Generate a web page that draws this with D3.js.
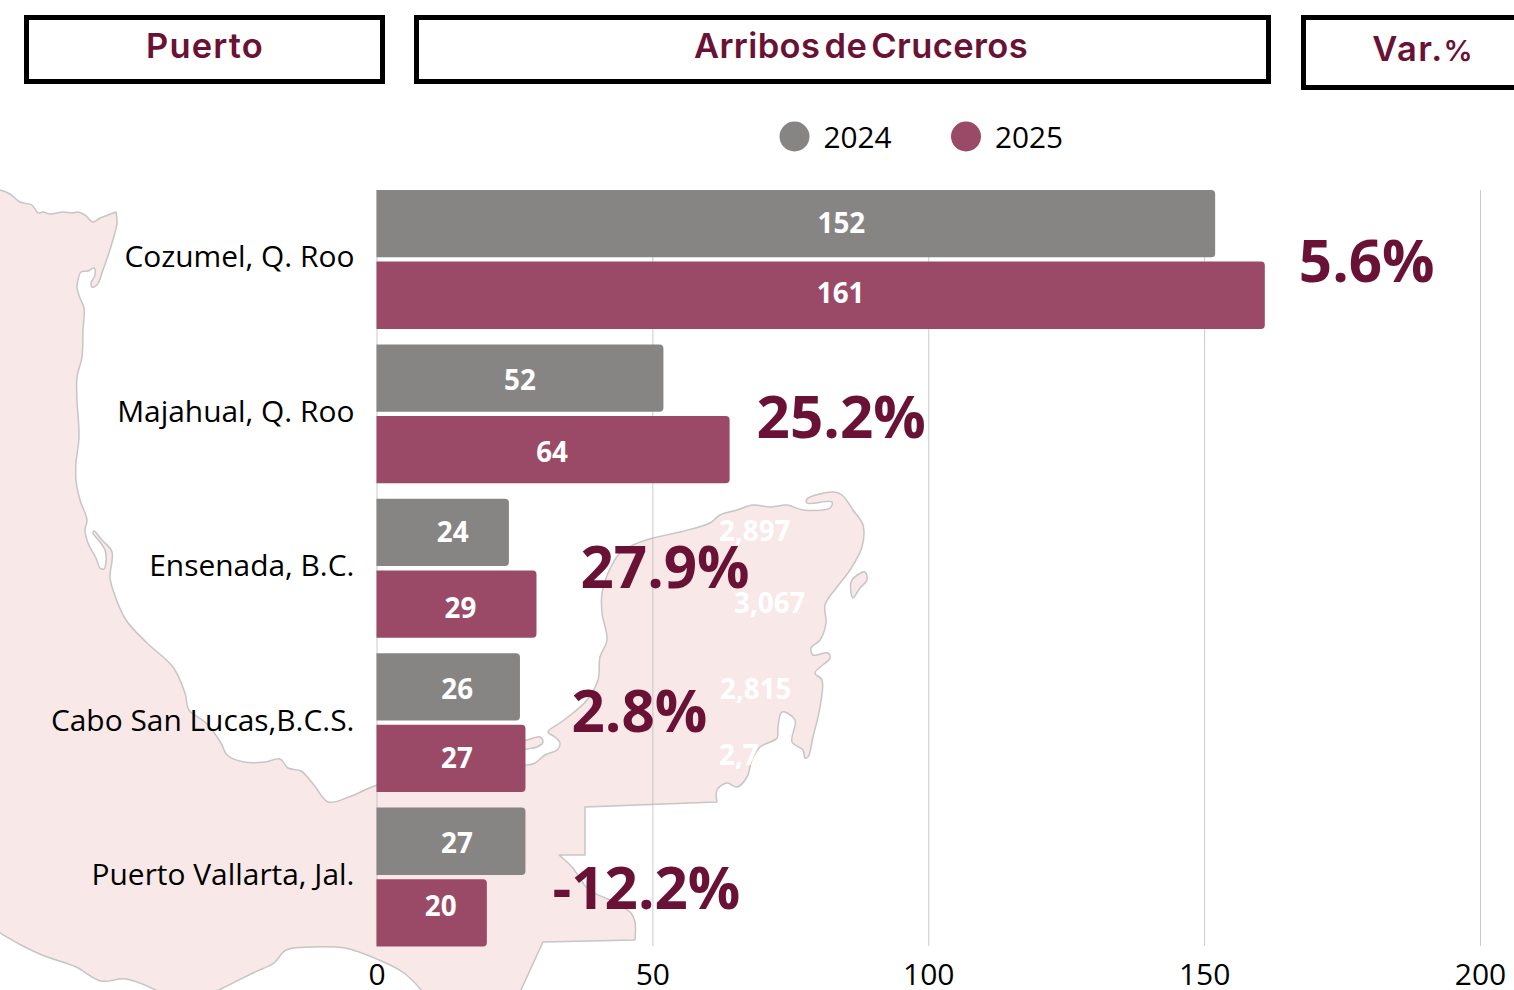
<!DOCTYPE html>
<html><head><meta charset="utf-8">
<script src="https://cdn.jsdelivr.net/npm/d3@7/dist/d3.min.js"></script>
<style>
html,body{margin:0;padding:0;background:#fff;overflow:hidden}
svg{display:block}
</style></head><body>
<svg id="c" width="1514" height="990"></svg>
<script>
// ---------- data ----------
const categories = ["Cozumel, Q. Roo","Majahual, Q. Roo","Ensenada, B.C.","Cabo San Lucas,B.C.S.","Puerto Vallarta, Jal."];
const years = ["2024","2025"];
const values2024 = [152,52,24,26,27];
const values2025 = [161,64,29,27,20];
const variation = ["5.6%","25.2%","27.9%","2.8%","-12.2%"];
const xTicks = [0,50,100,150,200];
const ghostLabels = ["2,897","3,067","2,815","2,7"];
const headerPuerto = "Puerto", headerArribos = "Arribos de Cruceros", headerVar = "Var.", headerVarPct = "%";

// ---------- styling / layout ----------
const GREY="#868583", WINE="#9a4a67", DARK="#6a1235", FONT="'Open Sans',sans-serif", HEAD="Inter,sans-serif";
const labelDx = [[45.5,20],[0,-1],[10,4],[9,6],[6,9]];
const labelDy = [[-0.3,-2.5],[2.2,2.5],[-0.5,4.5],[2.2,-0.5],[2.2,-6.2]];
const varDx = [34,27,44,46,27], varDy=[22.5,24,20,9.5,32];
const ghostPos = [[719,541],[734,613],[720,699],[719,765]];

// backdrop map outline (decorative, traced pixel positions); repeated points keep corners sharp
const mapCoast=[[-5,190],[0,190],[10,194],[20,202],[32,205],[38,213],[43,212],[50,214],[63,212],[72,213],[78,212],[85,215],[93,222],[100,218],[108,215],[116,212],[116,212],[117,223],[112,243],[103,270],[97,285],[92,287],[91,283],[95,275],[94,268],[88,271],[81,272],[78,280],[77,288],[80,298],[84,308],[83,330],[82,357],[77,377],[77,400],[79,437],[76,463],[76,480],[80,500],[87,520],[85,530],[88,543],[96,558],[100,568],[104,569],[106,562],[105,550],[100,542],[93,533],[94,531],[102,540],[112,552],[110,577],[113,590],[126,620],[147,643],[173,667],[185,693],[189,710],[206,723],[221,743],[227,755],[244,762],[265,762],[280,759],[288,768],[301,771],[314,785],[328,802],[349,797],[377,785],[440,770],[500,762],[527,765],[535,763],[545,755],[557,750],[560,743],[555,737],[548,732],[560,723],[573,713],[587,700],[598,680],[600,657],[607,640],[602,613],[602,593],[608,573],[620,553],[633,545],[653,538],[680,532],[710,523],[720,515],[737,510],[753,505],[770,507],[787,505],[803,510],[830,508],[832,502],[807,503],[807,499],[833,492],[842,495],[853,510],[863,525],[862,547],[850,570],[837,587],[825,605],[826,623],[820,640],[811,648],[813,655],[828,653],[830,658],[815,673],[822,680],[820,707],[813,737],[808,757],[805,758],[803,750],[792,742],[795,720],[782,712],[778,727],[777,738],[760,747],[752,760],[747,777],[737,787],[727,783],[717,790],[717,802],[717,802],[585,807],[585,807],[585,855],[585,855],[559,855],[559,855],[572,867],[589,890],[610,900],[631,913],[635,922],[635,940],[635,940],[543,942],[543,942],[520,992],[520,992],[423,992],[423,992],[404,973],[379,960],[345,948],[311,947],[286,950],[274,963],[253,973],[215,992],[215,992],[160,992],[160,992],[126,979],[101,981],[76,967],[42,955],[21,945],[0,933],[-5,930],[-5,930]];
const mapIslands=[[[852,580],[865,572],[867,580],[860,588],[853,598],[851,593]],[[520,741],[527,740],[540,737],[543,742],[537,747],[527,749],[520,750]]];

// ---------- scales ----------
const svg=d3.select("#c");
const x=d3.scaleLinear().domain([0,200]).range([376.5,1480]);
const y=d3.scaleBand().domain(categories).range([190,946.5]).paddingInner(0.1).paddingOuter(0);
const yInner=d3.scaleBand().domain(years).range([0,y.bandwidth()]).paddingInner(0.06);

// ---------- map ----------
const shape=d3.line().curve(d3.curveCatmullRomClosed.alpha(0.5));
const mapG=svg.append("g");
[mapCoast,...mapIslands].forEach(p=>mapG.append("path").attr("d",shape(p))
  .attr("fill","#f8e8e8").attr("stroke","#c7c5c5").attr("stroke-width",1.5).attr("stroke-linejoin","round"));

// ---------- header boxes ----------
const boxes=[{x:26.5,y:17.5,w:356,h:64},{x:416.5,y:17.5,w:852,h:64},{x:1303.5,y:17.5,w:230,h:70}];
svg.append("g").selectAll("rect").data(boxes).join("rect")
  .attr("x",d=>d.x).attr("y",d=>d.y).attr("width",d=>d.w).attr("height",d=>d.h)
  .attr("fill","#fff").attr("stroke","#000").attr("stroke-width",5);
const head=(t,xx,yy,fs)=>svg.append("text").attr("x",xx).attr("y",yy).attr("text-anchor","middle")
  .attr("font-family",HEAD).attr("font-weight",600).attr("font-size",fs).attr("fill",DARK).text(t);
head(headerPuerto,205,58,34.5).attr("letter-spacing",1.2);
head(headerArribos,861,58,34.5).attr("word-spacing",-5).attr("letter-spacing",0.4);
head(headerVar,1408,61,34.5).attr("letter-spacing",1.5);
head(headerVarPct,1458,61,29);

// ---------- legend ----------
const legend=[{k:years[0],c:GREY,x:794.5},{k:years[1],c:WINE,x:966}];
const lg=svg.append("g").selectAll("g").data(legend).join("g");
lg.append("circle").attr("cx",d=>d.x).attr("cy",136.5).attr("r",15).attr("fill",d=>d.c);
lg.append("text").attr("x",d=>d.x+29).attr("y",148).attr("font-family",FONT).attr("font-size",29.8).attr("fill","#000").text(d=>d.k);

// ---------- grid + axes ----------
svg.append("g").selectAll("line").data(xTicks).join("line")
  .attr("x1",d=>x(d)+0.5).attr("x2",d=>x(d)+0.5).attr("y1",190).attr("y2",946)
  .attr("stroke","#bdbdbd").attr("stroke-opacity",0.8).attr("stroke-width",1);

const ax=svg.append("g").attr("transform","translate(0,946)")
  .call(d3.axisBottom(x).tickValues(xTicks).tickSize(0).tickPadding(17.5).tickFormat(d3.format("d")));
ax.select(".domain").remove();
ax.selectAll("text").attr("font-family",FONT).attr("font-size",30).attr("fill","#000");

const ay=svg.append("g").attr("transform","translate(377,0)")
  .call(d3.axisLeft(y).tickSize(0).tickPadding(22.6));
ay.select(".domain").remove();
ay.selectAll("text").attr("font-family",FONT).attr("font-size",29.9).attr("fill","#000").attr("dy","0.265em");

// ---------- ghost labels ----------
svg.append("g").selectAll("text").data(ghostLabels).join("text")
  .attr("x",(d,i)=>ghostPos[i][0]).attr("y",(d,i)=>ghostPos[i][1])
  .attr("font-family",FONT).attr("font-weight",700).attr("font-size",27.8).attr("fill","#fff").text(d=>d);

// ---------- bars ----------
const r=4;
function barPath(x0,x1,t,h){
  const p=d3.path();
  p.moveTo(x0,t);p.lineTo(x1-r,t);p.quadraticCurveTo(x1,t,x1,t+r);
  p.lineTo(x1,t+h-r);p.quadraticCurveTo(x1,t+h,x1-r,t+h);p.lineTo(x0,t+h);p.closePath();
  return p.toString();
}
const rows=categories.flatMap((c,i)=>[
  {c,i,j:0,k:years[0],v:values2024[i],col:GREY},
  {c,i,j:1,k:years[1],v:values2025[i],col:WINE}]);
const bars=svg.append("g").selectAll("g").data(rows).join("g");
bars.append("path")
  .attr("d",d=>barPath(x(0),x(d.v),y(d.c)+yInner(d.k),yInner.bandwidth()))
  .attr("fill",d=>d.col);
bars.append("text")
  .attr("x",d=>(x(0)+x(d.v))/2+labelDx[d.i][d.j])
  .attr("y",d=>y(d.c)+yInner(d.k)+yInner.bandwidth()/2+labelDy[d.i][d.j]+9.8)
  .attr("text-anchor","middle").attr("font-family",FONT).attr("font-weight",700)
  .attr("font-size",27.8).attr("fill","#fff").text(d=>d.v);

// ---------- variation labels ----------
svg.append("g").selectAll("text").data(variation).join("text")
  .attr("x",(d,i)=>x(Math.max(values2024[i],values2025[i]))+varDx[i])
  .attr("y",(d,i)=>y(categories[i])+y.bandwidth()/2+varDy[i])
  .attr("font-family",FONT).attr("font-weight",700).attr("font-size",58.3).attr("fill",DARK).text(d=>d);
</script>
</body></html>
